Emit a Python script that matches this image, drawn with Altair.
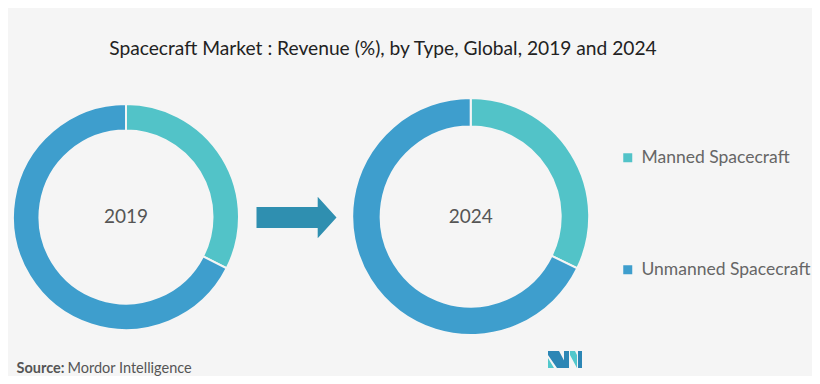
import altair as alt
import pandas as pd

# ---- data ----
years = ["2019", "2024"]
types = ["Manned Spacecraft", "Unmanned Spacecraft"]
manned_share = [32.5, 32.2]
unmanned_share = [67.5, 67.8]
colors = ["#52C3C8", "#3E9ECD"]

title_text = "Spacecraft Market : Revenue (%), by Type, Global, 2019 and 2024"
source_bold = "Source:"
source_rest = "Mordor Intelligence"

rows = []
for i, y in enumerate(years):
    rows.append({"year": y, "type": types[0], "value": manned_share[i], "ord": 0})
    rows.append({"year": y, "type": types[1], "value": unmanned_share[i], "ord": 1})
df = pd.DataFrame(rows)
ydf = pd.DataFrame({"year": years})

FONT = "Lato"
W, H = 804, 368

# donut geometry (chart coords = page - 8)
centers = {"2019": (118, 209, 113, 86.5), "2024": (462.7, 208.5, 118.5, 90)}

color = alt.Color(
    "type:N",
    scale=alt.Scale(domain=types, range=colors),
    legend=alt.Legend(
        orient="none", legendX=611, legendY=141, title=None,
        symbolType="square", symbolSize=81, symbolStrokeWidth=0,
        labelFontSize=17.5, labelColor="#666666", labelFont=FONT, labelLimit=400,
        labelOffset=5, rowPadding=93, padding=0, direction="vertical",
    ),
)

layers = []
for y in years:
    cx, cy, ro, ri = centers[y]
    arc = (
        alt.Chart(df)
        .transform_filter(alt.datum.year == y)
        .mark_arc(radius=ro, radius2=ri, stroke="#F5F5F5", strokeWidth=2)
        .encode(
            theta=alt.Theta("value:Q", stack=True),
            color=color,
            order=alt.Order("ord:Q"),
            x=alt.value(cx), y=alt.value(cy),
        )
    )
    lbl = (
        alt.Chart(ydf)
        .transform_filter(alt.datum.year == y)
        .mark_text(font=FONT, fontSize=19, color="#555555", baseline="middle", align="center")
        .encode(text="year:N", x=alt.value(cx), y=alt.value(cy))
    )
    layers += [arc, lbl]

# arrow
arrow_path = "M-1,-0.26 L0.53,-0.26 L0.53,-0.52 L1,0 L0.53,0.52 L0.53,0.26 L-1,0.26 Z"
arrow = (
    alt.Chart(ydf.head(1))
    .mark_point(shape=arrow_path, size=80 * 80, filled=True, fill="#2F8FB0", opacity=1, strokeWidth=0)
    .encode(x=alt.value(288.5), y=alt.value(209.5))
)

# logo (Mordor-like mark)
def P(pts):
    s = "M" + " L".join(f"{(x-17.5)/17.5:.3f},{(y-8.5)/17.5:.3f}" for x, y in pts) + " Z"
    return s

logo_dark = P([(0, 0), (11, 0), (20, 17), (9, 17), (0, 4)]) + " " + P([(16, 0), (21, 0), (21, 17), (16, 17)]) + " " + P([(30, 0), (34, 0), (34, 17), (30, 17)])
logo_teal = P([(0, 7), (6, 17), (0, 17)]) + " " + P([(22, 0), (27, 0), (29, 4), (29, 17), (22, 4)])
logo = alt.layer(
    alt.Chart(ydf.head(1)).mark_point(shape=logo_dark, size=35 * 35, filled=True, fill="#2C86B5", opacity=1, strokeWidth=0)
    .encode(x=alt.value(557.5), y=alt.value(351.5)),
    alt.Chart(ydf.head(1)).mark_point(shape=logo_teal, size=35 * 35, filled=True, fill="#52C8CC", opacity=1, strokeWidth=0)
    .encode(x=alt.value(557.5), y=alt.value(351.5)),
)

title = (
    alt.Chart(ydf.head(1))
    .mark_text(text=title_text, font=FONT, fontSize=19.2, color="#222222", align="center", baseline="alphabetic")
    .encode(x=alt.value(375), y=alt.value(46.5))
)
src1 = (
    alt.Chart(ydf.head(1))
    .mark_text(text=source_bold, font=FONT, fontSize=14.5, fontWeight="bold", color="#555555", align="left", baseline="alphabetic")
    .encode(x=alt.value(8.5), y=alt.value(365))
)
src2 = (
    alt.Chart(ydf.head(1))
    .mark_text(text=source_rest, font=FONT, fontSize=14.5, color="#555555", align="left", baseline="alphabetic")
    .encode(x=alt.value(59.5), y=alt.value(365))
)

chart = (
    alt.layer(*layers, arrow, logo, title, src1, src2)
    .properties(width=W, height=H, autosize=alt.AutoSizeParams(type="none"), padding=0)
    .configure(background="#F5F5F5")
    .configure_view(stroke=None)
)

chart.save("out.html", embed_options={"renderer": "svg", "actions": False})
